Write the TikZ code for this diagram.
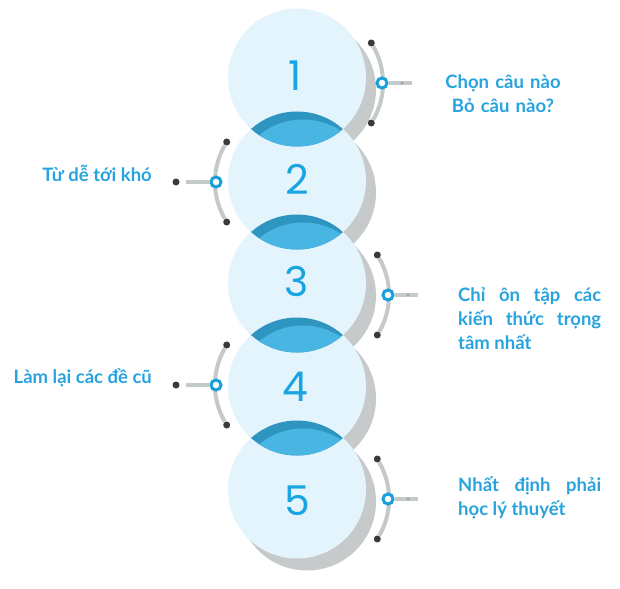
\documentclass[tikz,border=0pt]{standalone}
\usepackage{fontspec}
\setmainfont{Lato}
\newfontfamily\digitfont{Poppins}
\usetikzlibrary{calc,positioning}

\definecolor{bubble}{HTML}{E4F4FC}
\definecolor{shadegray}{HTML}{C6CACA}
\definecolor{lenslight}{HTML}{48B5E3}
\definecolor{lensdark}{HTML}{2E95C1}
\definecolor{trackgray}{HTML}{C4C9C9}
\definecolor{dotgray}{HTML}{3A3A3A}
\definecolor{ringblue}{HTML}{1A9FDB}
\definecolor{numblue}{HTML}{18A5E2}
\definecolor{tipblue}{HTML}{27A3DE}

\newcommand\tipstrut{\rule{0pt}{20pt}}

\begin{document}
\begin{tikzpicture}[x=1pt,y=-1pt,
  ele/.style={fill=dotgray,circle,minimum size=7pt,inner sep=0pt},
  hub/.style={circle,draw=ringblue,line width=3pt,fill=white,minimum size=10pt,inner sep=0pt},
  knot/.style={circle,fill=gray!70,minimum size=3.5pt,inner sep=0pt},
  track/.style={draw=trackgray,line width=4pt},
  num/.style={font=\digitfont\fontsize{41}{41}\selectfont,text=numblue,inner sep=0pt},
  tip/.style={font=\bfseries\fontsize{18.5}{24}\selectfont,text=tipblue,inner sep=0pt}]

  \useasboundingbox (0,0) rectangle (620,588);

  \coordinate (c1) at (297,77.5);
  \coordinate (c2) at (297,180.5);
  \coordinate (c3) at (297,283.5);
  \coordinate (c4) at (297,386.5);
  \coordinate (c5) at (297,489.5);

  % shadows and bubbles
  \foreach \i in {1,...,5}
    \fill[shadegray] ($(c\i)+(10,12)$) circle (69pt);
  \foreach \i in {1,...,5}
    \fill[bubble] (c\i) circle (69pt);

  % overlaps
  \foreach \k/\j in {1/2,2/3,3/4,4/5}{
    \begin{scope}
      \clip (c\k) circle (69pt);
      \clip (c\j) circle (69pt);
      \fill[lensdark] (c\j) circle (69pt);
      \fill[lenslight] ($(c\j)+(6,8)$) circle (69pt);
    \end{scope}
  }

  \node[num] (n1) at (295,76) {1};
  \node[num] (n2) at (297,179) {2};
  \node[num] (n3) at (297,281) {3};
  \node[num] (n4) at (295,387) {4};
  \node[num] (n5) at (297,501) {5};

  % right side, 1
  \node[ele] (t1) at (371.3,43) {};
  \node[ele] (b1) at (371.3,123) {};
  \draw[track] (t1) to[bend left=30,looseness=.92] (b1);
  \node[hub] (h1) at (382,83) {};
  \coordinate (e1) at (412,83);
  \draw[track] (h1) -- (e1);
  \node[knot] (k1) at (402,83) {};

  % left side, 2
  \node[ele] (t2) at (226.7,142) {};
  \node[ele] (b2) at (226.7,222) {};
  \draw[track] (t2) to[bend right=30,looseness=.92] (b2);
  \node[hub] (h2) at (216,182) {};
  \coordinate (e2) at (186,182);
  \draw[track] (h2) -- (e2);
  \node[ele] (d2) at (176,182) {};

  % right side, 3
  \node[ele] (t3) at (377.3,255) {};
  \node[ele] (b3) at (377.3,335) {};
  \draw[track] (t3) to[bend left=30,looseness=.92] (b3);
  \node[hub] (h3) at (388,295) {};
  \coordinate (e3) at (418,295);
  \draw[track] (h3) -- (e3);
  \node[knot] (k3) at (408,295) {};

  % left side, 4
  \node[ele] (t4) at (226.7,345) {};
  \node[ele] (b4) at (226.7,425) {};
  \draw[track] (t4) to[bend right=30,looseness=.92] (b4);
  \node[hub] (h4) at (216,385) {};
  \coordinate (e4) at (186,385);
  \draw[track] (h4) -- (e4);
  \node[ele] (d4) at (176,385) {};

  % right side, 5
  \node[ele] (t5) at (377.3,459) {};
  \node[ele] (b5) at (377.3,539) {};
  \draw[track] (t5) to[bend left=30,looseness=.92] (b5);
  \node[hub] (h5) at (388,499) {};
  \coordinate (e5) at (418,499);
  \draw[track] (h5) -- (e5);
  \node[knot] (k5) at (408,499) {};

  % labels
  \node[tip,text width=143pt,align=center,anchor=north] (w1) at (503,68)
    {\tipstrut Chọn câu nào\\Bỏ câu nào?};
  \node[tip,anchor=base east] (w2) at (152,181) {Từ dễ tới khó};
  \node[tip,text width=143pt,align=justify,anchor=north west] (w3) at (458,281)
    {\tipstrut Chỉ ôn tập các\linebreak kiến thức trọng\linebreak tâm nhất};
  \node[tip,anchor=base east] (w4) at (152,383) {Làm lại các đề cũ};
  \node[tip,text width=143pt,align=justify,anchor=north west] (w5) at (458,471)
    {\tipstrut Nhất định phải\linebreak học lý thuyết};
\end{tikzpicture}
\end{document}
